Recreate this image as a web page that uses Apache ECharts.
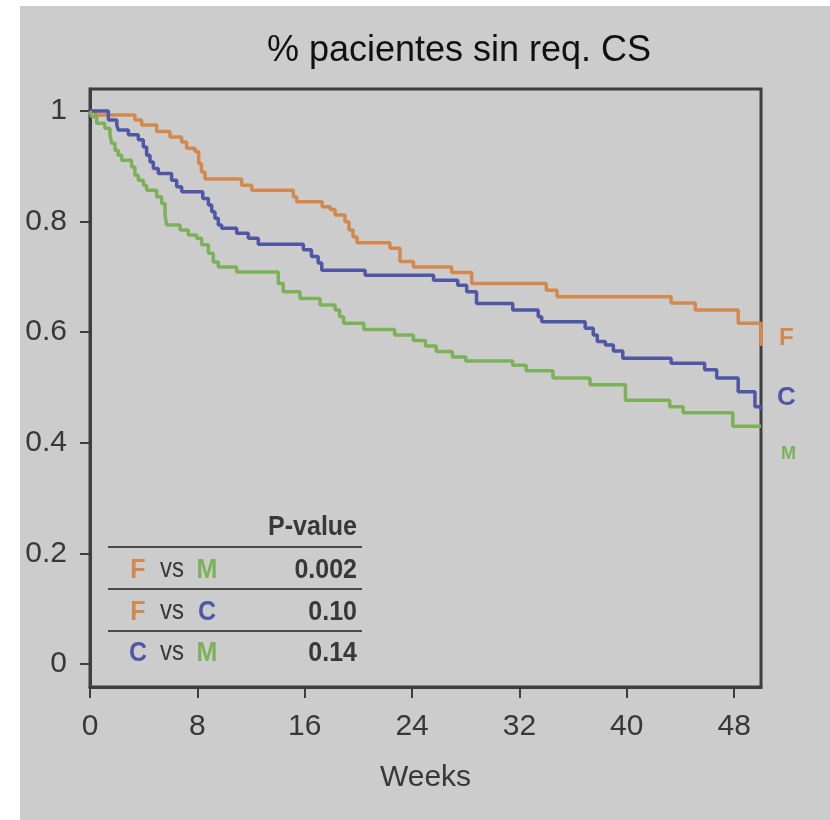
<!DOCTYPE html>
<html>
<head>
<meta charset="utf-8">
<script src="https://cdn.jsdelivr.net/npm/echarts@6/dist/echarts.min.js"></script>
<style>
  html, body { margin: 0; padding: 0; background: #ffffff; }
  #chart {
    width: 830px; height: 820px;
    background: linear-gradient(#cccccc, #cccccc) no-repeat 20px 6px / 810px 814px, #ffffff;
  }
</style>
</head>
<body>
<div id="chart"></div>
<script>
// Kaplan-Meier style curves: proportion of patients free of corticosteroid need, by week
const weekTicks = [0, 8, 16, 24, 32, 40, 48];
const propTicks = [0, 0.2, 0.4, 0.6, 0.8, 1];

// Group F
const fWeeks = [0, 0.4, 3.35, 3.85, 4.97, 5.96, 6.83, 7.2, 7.82, 8.1, 8.3, 8.57, 11.3, 12.05, 15.15, 15.4, 17.3, 17.9, 18.26, 19.0, 19.3, 19.6, 19.9, 22.35, 23.1, 24.1, 26.95, 28.44, 34.0, 34.8, 43.3, 45.1, 48.3, 50];
const fSurv  = [1.0, 0.993, 0.984, 0.975, 0.963, 0.953, 0.944, 0.933, 0.927, 0.905, 0.89, 0.877, 0.866, 0.857, 0.845, 0.836, 0.827, 0.822, 0.812, 0.80, 0.785, 0.772, 0.762, 0.752, 0.728, 0.718, 0.708, 0.688, 0.676, 0.664, 0.653, 0.640, 0.616, 0.575];

// Group C
const cWeeks = [0, 1.37, 2.0, 2.1, 2.86, 3.6, 3.97, 4.22, 4.47, 4.72, 5.09, 6.08, 6.46, 6.83, 8.4, 8.82, 9.07, 9.31, 9.56, 9.81, 10.93, 11.8, 12.54, 15.9, 16.5, 17.0, 17.27, 20.5, 25.6, 27.4, 28.07, 28.8, 31.5, 33.4, 33.66, 36.9, 37.5, 37.8, 38.4, 39.0, 39.7, 43.3, 45.8, 46.7, 48.3, 49.55, 50];
const cSurv  = [1.0, 0.984, 0.975, 0.966, 0.957, 0.948, 0.935, 0.920, 0.908, 0.896, 0.887, 0.875, 0.863, 0.854, 0.842, 0.830, 0.818, 0.806, 0.794, 0.788, 0.779, 0.770, 0.759, 0.749, 0.737, 0.725, 0.712, 0.703, 0.694, 0.685, 0.673, 0.652, 0.640, 0.628, 0.619, 0.607, 0.595, 0.583, 0.577, 0.566, 0.553, 0.544, 0.532, 0.517, 0.492, 0.465, 0.459];

// Group M
const mWeeks = [0, 0.12, 0.5, 1.1, 1.49, 1.61, 1.86, 2.1, 2.36, 3.1, 3.35, 3.6, 3.97, 4.22, 4.97, 5.34, 5.59, 5.71, 6.71, 7.33, 7.95, 8.32, 8.82, 9.19, 9.56, 10.93, 14.03, 14.4, 15.65, 17.14, 18.26, 18.6, 18.9, 20.4, 22.7, 24.1, 25.0, 25.8, 27.0, 28.0, 31.5, 32.5, 34.5, 37.26, 39.9, 43.2, 44.2, 47.9, 50];
const mSurv  = [1.0, 0.990, 0.978, 0.969, 0.957, 0.942, 0.929, 0.920, 0.911, 0.899, 0.884, 0.875, 0.866, 0.857, 0.845, 0.833, 0.812, 0.794, 0.785, 0.776, 0.770, 0.758, 0.743, 0.727, 0.718, 0.709, 0.688, 0.673, 0.661, 0.649, 0.640, 0.628, 0.616, 0.605, 0.595, 0.585, 0.575, 0.565, 0.555, 0.548, 0.540, 0.530, 0.517, 0.505, 0.477, 0.465, 0.454, 0.430, 0.430];

// Pairwise comparisons and their p-values
const compA   = ['F', 'F', 'C'];
const compB   = ['M', 'C', 'M'];
const pValues = ['0.002', '0.10', '0.14'];

const groupColor = { F: '#d3894c', C: '#4f57a6', M: '#7cb15a' };
const FONT = '"Liberation Sans", Arial, sans-serif';
const ink = '#383838';
const frame = '#3e3e3e';

function pairs(xs, ys) { return xs.map((x, i) => [x, ys[i]]); }

function kmSeries(name, xs, ys, labelFont, offset) {
  return {
    name: name,
    type: 'line',
    step: 'end',
    data: pairs(xs, ys),
    showSymbol: false,
    clip: false,
    lineStyle: { color: groupColor[name], width: 3.5 },
    itemStyle: { color: groupColor[name] },
    endLabel: {
      show: true,
      formatter: p => p.seriesName,
      color: groupColor[name],
      fontFamily: FONT,
      fontWeight: 'bold',
      fontSize: labelFont,
      offset: offset
    },
    emphasis: { disabled: true }
  };
}

// p-value table drawn as free text and rules
const tableRight = 357;
const tableRows = [570, 612, 653];
const tableRules = [547, 589, 631];
const tableFont = 'bold 25px ' + FONT;
const graphics = [];
graphics.push({
  type: 'text', x: tableRight, y: 527, scaleY: 1.12,
  style: { text: 'P-value', textAlign: 'right', textVerticalAlign: 'middle', font: tableFont, fill: ink }
});
tableRules.forEach(y => graphics.push({
  type: 'line', shape: { x1: 108, y1: y, x2: 362, y2: y },
  style: { stroke: '#4a4a4a', lineWidth: 2 }
}));
tableRows.forEach((y, i) => {
  graphics.push({ type: 'text', x: 138, y: y, scaleY: 1.12,
    style: { text: compA[i], textAlign: 'center', textVerticalAlign: 'middle', font: tableFont, fill: groupColor[compA[i]] } });
  graphics.push({ type: 'text', x: 172, y: y, scaleY: 1.12,
    style: { text: 'vs', textAlign: 'center', textVerticalAlign: 'middle', font: '24px ' + FONT, fill: ink } });
  graphics.push({ type: 'text', x: 207, y: y, scaleY: 1.12,
    style: { text: compB[i], textAlign: 'center', textVerticalAlign: 'middle', font: tableFont, fill: groupColor[compB[i]] } });
  graphics.push({ type: 'text', x: tableRight, y: y, scaleY: 1.12,
    style: { text: pValues[i], textAlign: 'right', textVerticalAlign: 'middle', font: tableFont, fill: ink } });
});

const chart = echarts.init(document.getElementById('chart'), null, { renderer: 'canvas' });
chart.setOption({
  backgroundColor: 'transparent',
  animation: false,
  title: {
    text: '% pacientes sin req. CS',
    left: 459, top: 33, textAlign: 'center', padding: 0,
    textStyle: { fontFamily: FONT, fontSize: 36, fontWeight: 'normal', color: '#111111' }
  },
  grid: {
    left: 90, top: 89, right: 69, bottom: 133,
    show: true, borderColor: frame, borderWidth: 3, backgroundColor: 'transparent'
  },
  xAxis: {
    type: 'value', min: 0, max: 50,
    name: 'Weeks', nameLocation: 'middle', nameGap: 76,
    nameTextStyle: { fontFamily: FONT, fontSize: 30, color: ink },
    axisLine: { show: true, onZero: false, lineStyle: { color: frame, width: 3 } },
    axisTick: { show: true, customValues: weekTicks, length: 11, lineStyle: { color: frame, width: 2 } },
    axisLabel: { customValues: weekTicks, margin: 25, fontFamily: FONT, fontSize: 30, color: ink },
    splitLine: { show: false }
  },
  yAxis: {
    type: 'value', min: -0.042, max: 1.04,
    axisLine: { show: true, onZero: false, lineStyle: { color: frame, width: 3 } },
    axisTick: { show: true, customValues: propTicks, length: 10, lineStyle: { color: frame, width: 2 } },
    axisLabel: { customValues: propTicks, margin: 23, fontFamily: FONT, fontSize: 30, color: ink,
      formatter: v => String(v) },
    splitLine: { show: false }
  },
  series: [
    kmSeries('F', fWeeks, fSurv, 24, [10, -8]),
    kmSeries('C', cWeeks, cSurv, 26, [8, -12]),
    kmSeries('M', mWeeks, mSurv, 18, [12, 28])
  ],
  graphic: graphics
});
</script>
</body>
</html>
